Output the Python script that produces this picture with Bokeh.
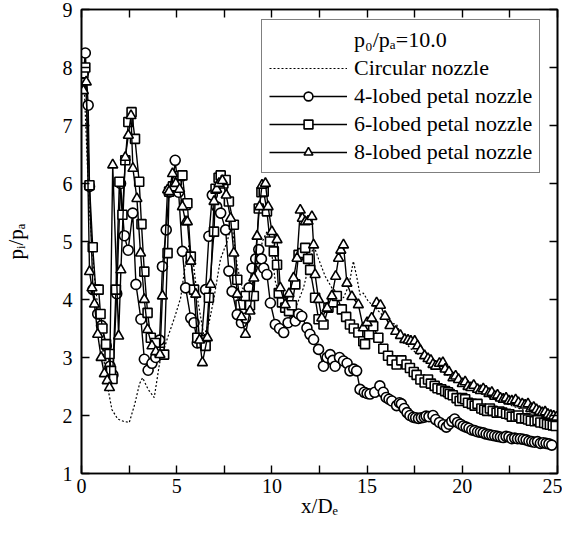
from bokeh.plotting import figure
from bokeh.models import (Range1d, FixedTicker, LinearAxis, Legend, LegendItem)
from bokeh.embed import file_html
from bokeh.resources import INLINE

# ---------------- data (x/De, pi/pa) ----------------
x_circ = [0.15,0.4,0.7,1.0,1.2,1.38,1.6,1.9,2.2,2.51,2.8,3.05,3.21,3.5,3.82,4.1,4.52,4.9,5.21,5.45,5.65,5.85,6.1,6.43,6.7,6.96,7.3,7.65,7.9,8.18,8.44,8.8,9.22,9.5,9.74,9.95,10.18,10.53,10.9,11.3,11.66,11.95,12.19,12.45,12.8,13.15,13.5,13.76,14.05,14.28,14.45,14.63,14.8,15.06,15.3,15.6,15.9,16.2,16.55,16.9,17.3,17.7,18.1,18.5,19.0,19.5,20.0,20.5,21.0,21.5,22.0,22.5,23.0,23.5,24.0,24.5,24.9]
y_circ = [7.6,5.6,4.3,3.5,2.9,2.48,2.1,1.94,1.9,1.88,2.2,2.55,2.65,2.45,2.31,2.9,3.34,3.7,4.03,4.6,4.95,4.7,4.0,3.37,3.6,4.03,4.7,5.0,5.3,4.57,4.2,4.1,4.54,5.0,5.17,4.9,4.31,3.91,3.8,3.9,4.2,4.6,4.94,4.7,4.4,4.2,4.1,4.03,4.25,4.66,4.4,4.08,4.11,3.97,3.9,3.8,3.7,3.6,3.57,3.3,3.15,3.05,2.95,2.85,2.75,2.62,2.52,2.45,2.38,2.3,2.24,2.18,2.12,2.05,2.0,1.95,1.92]

pts_4 = [(0.1,7.9),(0.2,8.25),(0.35,7.35),(0.42,5.95),(0.6,4.17),(0.85,3.75),(1.05,3.55),(1.3,3.2),(1.5,2.85),(1.65,2.7),
         (1.85,4.1),(2.05,6.0),(2.25,5.1),(2.45,4.85),(2.69,5.49),(2.86,4.26),(3.12,3.66),(3.3,2.97),(3.5,2.78),(3.7,2.9),
         (3.9,3.0),(4.1,3.3),(4.25,4.57),(4.45,5.2),(4.6,5.85),(4.78,5.9),(4.92,6.4),(5.1,5.85),(5.3,4.83),(5.47,4.2),
         (5.74,3.68),(5.91,3.6),(6.08,3.25),(6.3,3.3),(6.52,4.17),(6.69,5.09),(6.87,5.8),(7.1,5.6),(7.31,5.49),(7.57,5.2),
         (7.74,4.49),(7.91,4.14),(8.18,3.74),(8.4,3.6),(8.61,3.68),(8.8,4.2),(8.96,4.54),(9.15,4.7),(9.31,4.86),(9.45,4.7),
         (9.57,4.54),(9.74,4.43),(9.92,3.94),(10.18,3.57),(10.4,3.5),(10.62,3.43),(10.85,3.6),(11.05,3.8),(11.23,3.63),(11.4,3.75),
         (11.57,3.71),(11.84,3.51),(12.0,3.4),(12.19,3.31),(12.45,3.14),(12.71,2.85),(12.9,3.0),(13.06,3.05),(13.2,2.95),(13.32,2.85),
         (13.55,3.0),(13.76,2.94),(13.95,2.9),(14.1,2.77),(14.3,2.8),(14.45,2.77),(14.63,2.45),(14.85,2.4),(15.0,2.38),(15.15,2.37),
         (15.4,2.4),(15.67,2.51),(15.85,2.4),(16.0,2.31),(16.15,2.28),(16.3,2.25),(16.55,2.17),(16.7,2.22),(16.8,2.2),(16.95,2.12),
         (17.1,2.05),(17.25,2.0),(17.42,1.97),(17.55,1.96),(17.7,1.95),(17.85,1.96),(18.0,1.97),(18.1,1.99),(18.25,1.98),(18.46,2.0),
         (18.6,1.93),(18.8,1.88),(19.0,1.84),(19.16,1.8),(19.3,1.85),(19.45,1.9),(19.6,1.94),(19.75,1.88),(19.9,1.85),(20.05,1.82),
         (20.2,1.8),(20.35,1.78),(20.5,1.75),(20.65,1.74),(20.8,1.72),(20.95,1.71),(21.1,1.7),(21.25,1.68),(21.4,1.67),(21.55,1.66),
         (21.7,1.65),(21.85,1.64),(22.0,1.63),(22.15,1.62),(22.3,1.64),(22.45,1.63),(22.6,1.6),(22.75,1.61),(22.9,1.6),(23.05,1.6),
         (23.2,1.59),(23.35,1.58),(23.5,1.56),(23.65,1.55),(23.8,1.54),(23.95,1.55),(24.1,1.52),(24.25,1.53),(24.4,1.52),(24.55,1.51),
         (24.7,1.49)]

pts_6 = [(0.1,7.9),(0.2,8.0),(0.42,5.97),(0.59,4.9),(0.75,4.17),(0.9,4.17),(1.0,3.75),(1.1,3.5),(1.29,3.23),(1.47,3.06),
         (1.55,2.77),(1.63,2.63),(1.81,4.17),(1.99,6.03),(2.15,5.46),(2.3,6.4),(2.46,7.06),(2.63,7.23),(2.81,6.77),(3.03,6.03),
         (3.15,5.3),(3.3,4.48),(3.47,3.77),(3.64,3.34),(3.87,3.25),(4.1,3.1),(4.34,3.05),(4.52,4.8),(4.6,5.86),(4.8,5.95),
         (5.0,6.05),(5.18,6.13),(5.3,6.14),(5.47,5.63),(5.56,5.66),(5.74,4.74),(5.91,4.17),(6.08,3.34),(6.3,3.25),(6.52,3.2),
         (6.69,4.03),(6.96,5.17),(7.04,5.91),(7.2,6.1),(7.31,6.14),(7.45,6.0),(7.57,6.06),(7.74,5.69),(8.0,5.29),(8.18,4.34),
         (8.35,3.91),(8.62,4.06),(8.85,3.9),(9.05,4.06),(9.31,5.57),(9.45,5.85),(9.57,5.86),(9.74,5.52),(9.9,5.0),(10.1,4.83),
         (10.27,4.6),(10.36,4.11),(10.53,3.95),(10.7,3.86),(10.9,3.8),(11.05,3.9),(11.23,4.26),(11.4,4.77),(11.6,4.8),(11.75,4.89),
         (11.9,4.7),(12.01,4.51),(12.27,4.03),(12.45,3.66),(12.71,3.57),(12.97,3.86),(13.2,3.95),(13.41,4.06),(13.67,3.83),(13.9,3.7),
         (14.1,3.57),(14.3,3.5),(14.54,3.43),(14.8,3.28),(14.89,3.23),(15.1,3.4),(15.32,3.54),(15.59,3.34),(15.85,3.15),(16.1,3.03),
         (16.3,2.95),(16.55,2.88),(16.8,2.95),(17.07,2.88),(17.25,2.82),(17.45,2.75),(17.6,2.7),(17.8,2.62),(18.02,2.57),(18.2,2.62),
         (18.35,2.55),(18.55,2.51),(18.7,2.47),(18.9,2.45),(19.1,2.42),(19.25,2.4),(19.34,2.37),(19.5,2.35),(19.7,2.3),(19.86,2.25),
         (20.0,2.3),(20.15,2.28),(20.3,2.22),(20.5,2.2),(20.65,2.17),(20.8,2.2),(21.0,2.12),(21.15,2.1),(21.3,2.08),(21.45,2.12),
         (21.6,2.08),(21.8,2.05),(21.95,2.07),(22.1,2.05),(22.3,2.03),(22.47,2.02),(22.6,1.98),(22.8,1.98),(22.95,2.0),(23.1,1.95),
         (23.3,1.95),(23.45,1.93),(23.6,1.91),(23.8,1.9),(23.95,1.92),(24.1,1.88),(24.3,1.87),(24.45,1.85),(24.6,1.84),(24.75,1.83),
         (24.9,1.82)]

pts_8 = [(0.1,7.6),(0.25,7.75),(0.42,4.48),(0.55,4.2),(0.68,3.92),(0.85,3.4),(1.03,3.0),(1.2,2.72),(1.35,2.6),(1.47,2.48),
         (1.64,6.32),(1.95,3.37),(2.07,4.51),(2.3,6.45),(2.46,6.83),(2.6,7.17),(2.7,6.26),(2.91,5.74),(3.1,4.8),(3.3,4.0),
         (3.47,3.48),(3.7,3.2),(3.9,3.1),(4.12,3.05),(4.25,4.06),(4.52,5.89),(4.6,5.86),(4.78,6.17),(4.95,6.0),(5.15,5.9),
         (5.3,5.6),(5.47,5.34),(5.56,5.34),(5.74,4.66),(6.0,4.09),(6.2,3.3),(6.35,2.91),(6.61,3.34),(6.78,4.26),(6.96,5.69),
         (7.1,5.9),(7.22,6.0),(7.4,6.05),(7.6,5.8),(7.83,5.4),(8.0,4.8),(8.18,4.09),(8.4,3.7),(8.61,3.4),(8.85,3.8),
         (9.05,4.37),(9.22,5.09),(9.35,5.6),(9.48,5.97),(9.66,6.0),(9.8,5.6),(10.0,5.17),(10.27,5.03),(10.44,4.2),(10.7,3.91),
         (10.9,4.1),(11.14,4.37),(11.32,4.71),(11.49,5.54),(11.6,5.4),(11.75,5.34),(11.9,5.35),(12.1,5.43),(12.19,4.94),(12.27,4.43),
         (12.45,4.0),(12.62,3.68),(12.9,3.85),(13.15,4.06),(13.35,4.4),(13.5,4.71),(13.62,4.85),(13.76,4.94),(13.94,4.28),(14.2,4.05),
         (14.54,3.91),(14.8,3.51),(15.0,3.6),(15.24,3.68),(15.5,3.94),(15.7,3.9),(15.94,3.71),(16.2,3.55),(16.5,3.45),(16.75,3.38),
         (16.98,3.31),(17.15,3.3),(17.3,3.28),(17.5,3.28),(17.65,3.2),(17.8,3.12),(18.02,3.03),(18.2,2.98),(18.35,2.95),(18.46,2.88),
         (18.6,2.85),(18.8,2.9),(18.98,2.91),(19.1,2.8),(19.3,2.75),(19.51,2.65),(19.65,2.68),(19.8,2.62),(20.0,2.55),(20.15,2.58),
         (20.3,2.5),(20.45,2.48),(20.6,2.52),(20.8,2.45),(20.95,2.43),(21.1,2.46),(21.25,2.42),(21.4,2.38),(21.55,2.4),(21.7,2.33),
         (21.85,2.35),(22.0,2.3),(22.15,2.28),(22.3,2.3),(22.45,2.25),(22.6,2.25),(22.8,2.27),(22.95,2.22),(23.15,2.2),(23.3,2.18),
         (23.45,2.2),(23.6,2.12),(23.75,2.14),(23.9,2.1),(24.05,2.07),(24.2,2.05),(24.35,2.06),(24.5,2.02),(24.65,2.0),(24.8,1.99),
         (24.95,1.97)]

x_4 = [a for a, b in pts_4]
y_4 = [b for a, b in pts_4]
x_6 = [a for a, b in pts_6]
y_6 = [b for a, b in pts_6]
x_8 = [a for a, b in pts_8]
y_8 = [b for a, b in pts_8]

x_major = [0, 5, 10, 15, 20, 25]
x_minor = [2.5, 7.5, 12.5, 17.5, 22.5]
y_major = [1, 2, 3, 4, 5, 6, 7, 8, 9]

labels = ["Circular nozzle", "4-lobed petal nozzle", "6-lobed petal nozzle", "8-lobed petal nozzle"]
legend_title = "p\u2080/p\u2090=10.0"

FONT = "Liberation Serif"

BOTTOM = 50
p = figure(width=562, height=523, output_backend="svg", toolbar_location=None,
           x_range=Range1d(0, 25), y_range=Range1d(1, 9),
           min_border_left=79, min_border_right=5, min_border_top=9, min_border_bottom=BOTTOM)
p.xgrid.visible = False
p.ygrid.visible = False
p.outline_line_color = "black"
p.outline_line_width = 1.6
p.background_fill_color = "white"
p.border_fill_color = "white"

def style_axis(ax, labels_on=True):
    ax.axis_line_color = "black"
    ax.axis_line_width = 1.6
    ax.major_tick_in = 8
    ax.major_tick_out = 0
    ax.minor_tick_in = 8
    ax.minor_tick_out = 0
    ax.major_tick_line_color = "black"
    ax.minor_tick_line_color = "black"
    ax.major_tick_line_width = 1.4
    ax.minor_tick_line_width = 1.4
    ax.major_label_text_font = FONT
    ax.axis_label_text_font = FONT
    ax.axis_label_text_font_style = "normal"
    ax.axis_label_text_color = "black"
    if labels_on:
        ax.major_label_text_color = "black"
        ax.major_label_text_font_size = "20px"
        ax.axis_label_text_font_size = "21px"
    else:
        ax.major_label_text_color = None
        ax.major_label_text_font_size = "1px"
        ax.major_label_standoff = 0

xb = p.xaxis[0]
xb.ticker = FixedTicker(ticks=x_major, minor_ticks=x_minor)
xb.axis_label = "x/D\u2091"
style_axis(xb)
xb.major_label_standoff = 5
xb.axis_label_standoff = -2

yl = p.yaxis[0]
yl.ticker = FixedTicker(ticks=y_major, minor_ticks=[])
yl.axis_label = "p\u1d62/p\u2090"
style_axis(yl)
yl.major_label_standoff = 9
yl.axis_label_standoff = 32

xt = LinearAxis(ticker=FixedTicker(ticks=x_major, minor_ticks=x_minor))
style_axis(xt, labels_on=False)
p.add_layout(xt, "above")
yr = LinearAxis(ticker=FixedTicker(ticks=y_major, minor_ticks=[]))
style_axis(yr, labels_on=False)
p.add_layout(yr, "right")

# invisible renderer that carries the legend's title row
title_r = p.line(x=[], y=[], line_alpha=0)

# circular nozzle (dotted)
rc = p.line(x_circ, y_circ, line_color="black", line_width=1.2, line_dash="2 2")

# lobed nozzles
l4 = p.line(x_4, y_4, line_color="black", line_width=1.4)
m4 = p.scatter(x_4, y_4, marker="circle", size=10, line_color="black", line_width=1.6, fill_color="white")
l6 = p.line(x_6, y_6, line_color="black", line_width=1.4)
m6 = p.scatter(x_6, y_6, marker="square", size=9, line_color="black", line_width=1.6, fill_color="white")
l8 = p.line(x_8, y_8, line_color="black", line_width=1.4)
m8 = p.scatter(x_8, y_8, marker="triangle", size=10, line_color="black", line_width=1.6, fill_color="white")

frame_bottom = 523 - BOTTOM  # canvas y of frame bottom
legend = Legend(items=[
    LegendItem(label=legend_title, renderers=[title_r]),
    LegendItem(label=labels[0], renderers=[rc]),
    LegendItem(label=labels[1], renderers=[l4, m4]),
    LegendItem(label=labels[2], renderers=[l6, m6]),
    LegendItem(label=labels[3], renderers=[l8, m8]),
], location=(180, frame_bottom - 173))
legend.label_text_font = FONT
legend.label_text_font_size = "22px"
legend.label_text_color = "black"
legend.glyph_width = 78
legend.glyph_height = 22
legend.label_height = 22
legend.label_standoff = 7
legend.spacing = 2
legend.padding = 7
legend.margin = 0
legend.border_line_color = "black"
legend.border_line_width = 1.5
legend.background_fill_color = "white"
legend.background_fill_alpha = 1.0
p.add_layout(legend, "center")

open("out.html", "w").write(file_html(p, INLINE))
